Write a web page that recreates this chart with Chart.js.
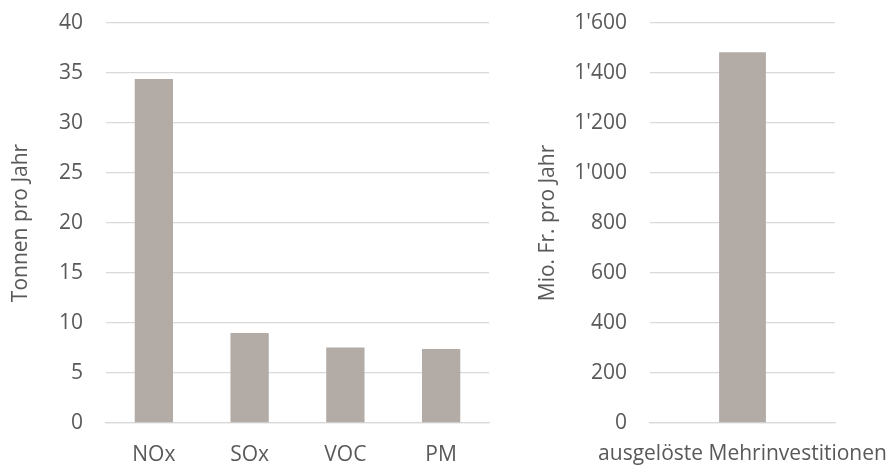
<!DOCTYPE html>
<html>
<head>
<meta charset="utf-8">
<script src="https://cdn.jsdelivr.net/npm/chart.js@4"></script>
<style>
    html, body { margin: 0; padding: 0; background: #ffffff; }
    body { width: 888px; height: 465px; position: relative; overflow: hidden; }
    .box { position: absolute; top: 0; height: 465px; }
    #leftBox { left: 0; width: 500px; }
    #rightBox { left: 520px; width: 368px; }
</style>
</head>
<body>
<div class="box" id="leftBox"><canvas id="emissionChart"></canvas></div>
<div class="box" id="rightBox"><canvas id="investChart"></canvas></div>
<script>
const emissionLabels = ['NOx', 'SOx', 'VOC', 'PM'];
const emissionValues = [34.4, 9.0, 7.55, 7.4];
const investLabels = ['ausgelöste Mehrinvestitionen'];
const investValues = [1483];

const barColor = '#b2aba6';
const textColor = '#595959';
const gridColor = '#d9d9d9';
const fontFamily = '"Open Sans", sans-serif';
const fontSize = 21;

function formatSwiss(value) {
    return String(value).replace(/\B(?=(\d{3})+(?!\d))/g, "'");
}

// drop the extra room chart.js reserves for overhanging labels
function noOverhang(scale) {
    scale.paddingTop = 0;
    scale.paddingBottom = 0;
    scale.paddingLeft = 0;
    scale.paddingRight = 0;
}

function makeChart(canvasId, labels, values, opts) {
    const ctx = document.getElementById(canvasId).getContext('2d');
    return new Chart(ctx, {
        type: 'bar',
        data: {
            labels: labels,
            datasets: [{
                data: values,
                backgroundColor: barColor,
                borderWidth: 0,
                barPercentage: opts.barPct,
                categoryPercentage: 1
            }]
        },
        options: {
            responsive: true,
            maintainAspectRatio: false,
            animation: false,
            layout: {
                padding: { top: 23, right: opts.rightPad, bottom: 0, left: 0 }
            },
            plugins: {
                legend: { display: false },
                tooltip: { enabled: false }
            },
            scales: {
                x: {
                    grid: { display: false, drawTicks: false },
                    border: { display: true, color: gridColor, width: 1.3 },
                    ticks: {
                        color: textColor,
                        font: { family: fontFamily, size: fontSize },
                        padding: opts.xPad,
                        maxRotation: 0,
                        autoSkip: false
                    },
                    afterFit: function(scale) {
                        scale.height = 42;
                        noOverhang(scale);
                    }
                },
                y: {
                    min: 0,
                    max: opts.max,
                    ticks: {
                        stepSize: opts.step,
                        color: textColor,
                        padding: 23,
                        font: { family: fontFamily, size: fontSize },
                        callback: function(value) { return formatSwiss(value); }
                    },
                    grid: { color: gridColor, lineWidth: 1.3, drawTicks: false },
                    border: { display: false },
                    title: {
                        display: true,
                        text: opts.title,
                        color: textColor,
                        font: { family: fontFamily, size: fontSize },
                        padding: { top: opts.titlePad, bottom: 0 }
                    },
                    afterFit: function(scale) {
                        scale.width = opts.axisWidth;
                        noOverhang(scale);
                    }
                }
            }
        }
    });
}

makeChart('emissionChart', emissionLabels, emissionValues, {
    max: 40, step: 5, title: 'Tonnen pro Jahr', titlePad: 8,
    axisWidth: 106, rightPad: 11, barPct: 0.40, xPad: 19
});

makeChart('investChart', investLabels, investValues, {
    max: 1600, step: 200, title: 'Mio. Fr. pro Jahr', titlePad: 15,
    axisWidth: 130, rightPad: 53, barPct: 0.253, xPad: 18
});
</script>
</body>
</html>
